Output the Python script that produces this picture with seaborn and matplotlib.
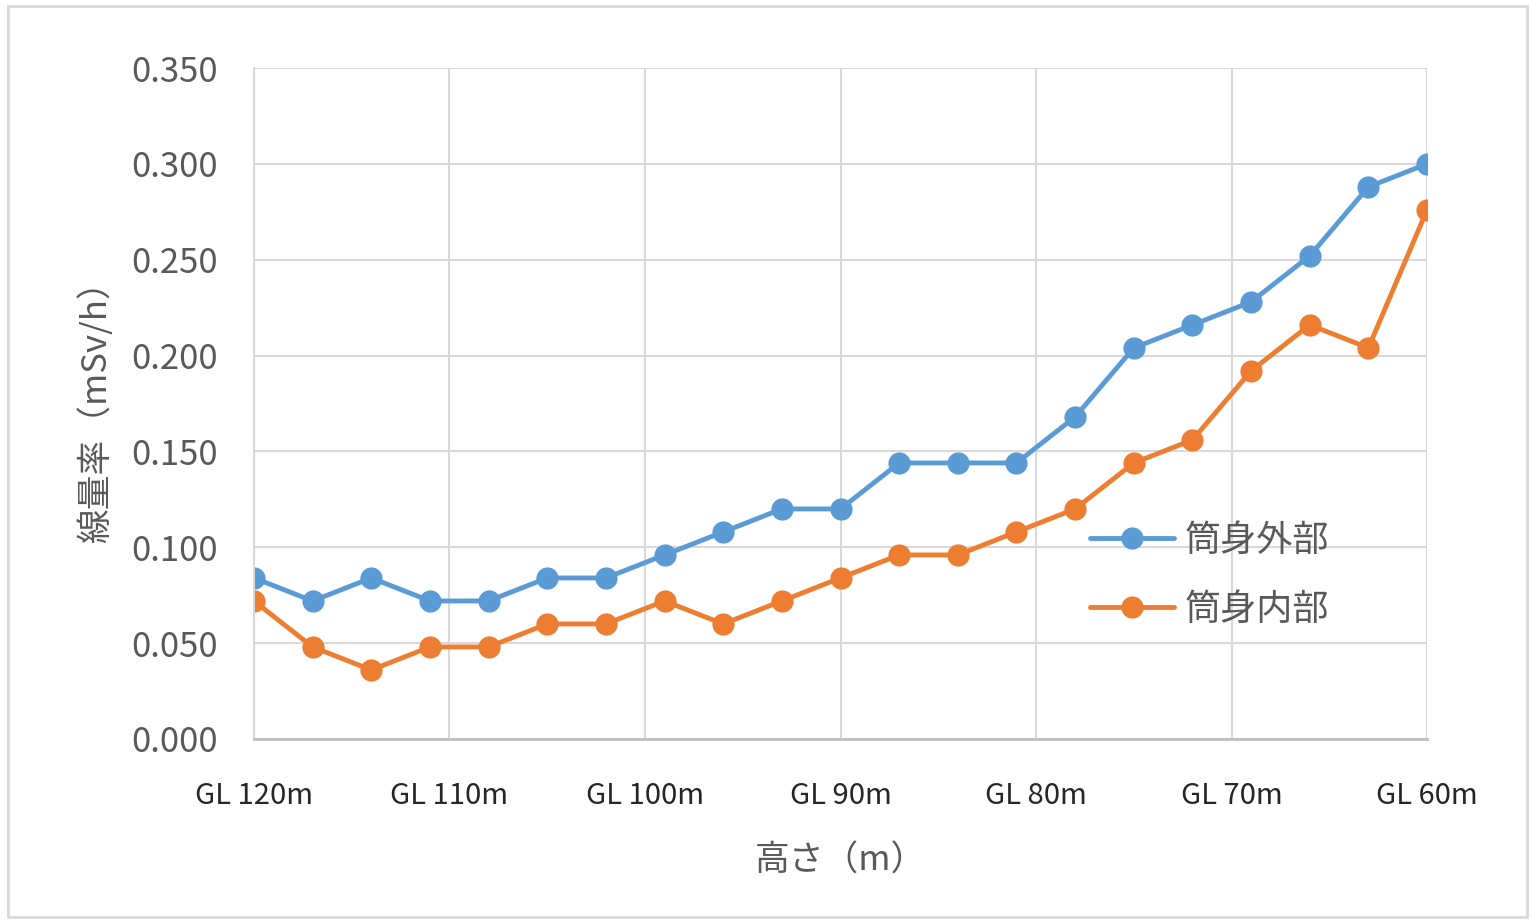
import pandas as pd
import matplotlib.pyplot as plt
import seaborn as sns
from matplotlib.patches import Rectangle

# heights (m), GL 120m down to GL 60m in 3 m steps
heights = [120, 117, 114, 111, 108, 105, 102, 99, 96, 93, 90,
           87, 84, 81, 78, 75, 72, 69, 66, 63, 60]
outer = [0.084, 0.072, 0.084, 0.072, 0.072, 0.084, 0.084, 0.096, 0.108, 0.120, 0.120,
         0.144, 0.144, 0.144, 0.168, 0.204, 0.216, 0.228, 0.252, 0.288, 0.300]
inner = [0.072, 0.048, 0.036, 0.048, 0.048, 0.060, 0.060, 0.072, 0.060, 0.072, 0.084,
         0.096, 0.096, 0.108, 0.120, 0.144, 0.156, 0.192, 0.216, 0.204, 0.276]
series_names = ['筒身外部', '筒身内部']
tick_vals = [120, 110, 100, 90, 80, 70, 60]
tick_labels = ['GL 120m', 'GL 110m', 'GL 100m', 'GL 90m', 'GL 80m', 'GL 70m', 'GL 60m']

df = pd.concat([
    pd.DataFrame({'高さ': heights, '線量率': outer, '系列': series_names[0]}),
    pd.DataFrame({'高さ': heights, '線量率': inner, '系列': series_names[1]}),
])

sns.set_style('white')
plt.rcParams['font.family'] = ['Noto Sans CJK JP', 'DejaVu Sans']

fig = plt.figure(figsize=(15.3, 9.22), dpi=100)
ax = fig.add_axes([0.166, 0.1985, 0.7667, 0.7277])

# light frame around the whole chart
fig.patches.append(Rectangle((0.005, 0.005), 0.993, 0.988, transform=fig.transFigure,
                             fill=False, edgecolor='#D9D9D9', linewidth=2))

sns.lineplot(data=df, x='高さ', y='線量率', hue='系列', ax=ax,
             palette=['#5B9BD5', '#ED7D31'], marker='o', markersize=16,
             markeredgewidth=0, linewidth=3.5, sort=False)

ax.set_xlim(120, 60)
ax.set_ylim(0, 0.35)
ax.set_yticks([0, 0.05, 0.10, 0.15, 0.20, 0.25, 0.30, 0.35])
ax.set_yticklabels([f'{v:.3f}' for v in ax.get_yticks()], fontsize=25, color='#595959')
ax.set_xticks(tick_vals)
ax.set_xticklabels(tick_labels, fontsize=21, color='#262626')
ax.tick_params(axis='both', length=0)
ax.tick_params(axis='y', pad=26)
ax.tick_params(axis='x', pad=30)

ax.grid(True, color='#D9D9D9', linewidth=1.5)
ax.set_axisbelow(True)
for s in ['top', 'right']:
    ax.spines[s].set_visible(False)
ax.spines['left'].set_color('#D9D9D9')
ax.spines['left'].set_linewidth(1.5)
ax.spines['bottom'].set_color('#BFBFBF')
ax.spines['bottom'].set_linewidth(2)

ax.set_xlabel('高さ（m）', fontsize=25, color='#595959', labelpad=24)
ax.set_ylabel('線量率（mSv/h）', fontsize=25, color='#595959', labelpad=12)

leg = ax.legend(loc='center left', bbox_to_anchor=(0.685, 0.244), frameon=False,
                fontsize=26, handlelength=2.33, labelspacing=0.9, handletextpad=0.3)
for t in leg.get_texts():
    t.set_color('#595959')

fig.savefig('out.png', dpi=100)
